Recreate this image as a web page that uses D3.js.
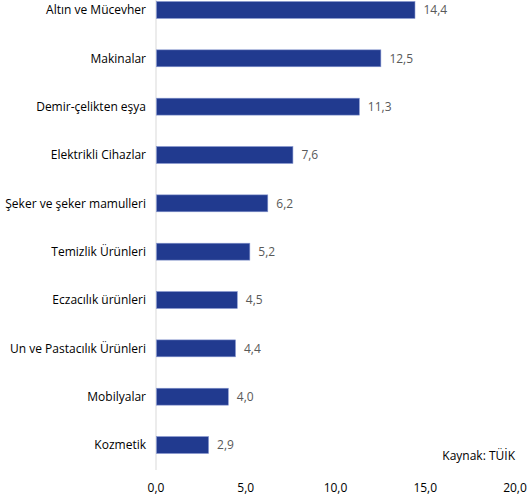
<!DOCTYPE html>
<html><head><meta charset="utf-8">
<script src="https://cdn.jsdelivr.net/npm/d3@7"></script>
<style>body{margin:0;background:#fff}svg{display:block}text{font-family:"Open Sans",sans-serif}</style>
</head><body><svg id="c" width="530" height="504"></svg>
<script>
const categories = ["Altın ve Mücevher","Makinalar","Demir-çelikten eşya","Elektrikli Cihazlar","Şeker ve şeker mamulleri","Temizlik Ürünleri","Eczacılık ürünleri","Un ve Pastacılık Ürünleri","Mobilyalar","Kozmetik"];
const values = [14.4,12.5,11.3,7.6,6.2,5.2,4.5,4.4,4.0,2.9];
const ticks = [0,5,10,15,20];
const source = "Kaynak: TÜİK";

const svg = d3.select("#c");
const fmt = d => d.toFixed(1).replace(".", ",");
const x = d3.scaleLinear().domain([0,20]).range([156,515]);
const y = d3.scaleBand().domain(categories).range([-14.2,469.2]).paddingInner(0.65).paddingOuter(0.325);

svg.append("line").attr("x1",x(0)).attr("x2",x(0)).attr("y1",0).attr("y2",470)
  .attr("stroke","#d9d9d9").attr("stroke-width",1);

svg.selectAll("rect.bar").data(values).join("rect").attr("class","bar")
  .attr("x",x(0)+0.5).attr("y",(d,i)=>y(categories[i]))
  .attr("width",d=>x(d)-x(0)).attr("height",y.bandwidth())
  .attr("fill","#213a8f").attr("stroke","#8595cf").attr("stroke-width",0.6);

svg.selectAll("text.val").data(values).join("text").attr("class","val")
  .attr("x",d=>x(d)+9).attr("y",(d,i)=>y(categories[i])+y.bandwidth()/2)
  .attr("dy","0.35em").attr("font-size",12).attr("fill","#595959").text(fmt);

svg.selectAll("text.cat").data(categories).join("text").attr("class","cat")
  .attr("x",146).attr("y",d=>y(d)+y.bandwidth()/2).attr("dy","0.35em")
  .attr("text-anchor","end").attr("font-size",12).attr("fill","#000").text(d=>d);

svg.selectAll("text.tick").data(ticks).join("text").attr("class","tick")
  .attr("x",d=>x(d)).attr("y",488).attr("dy","0.35em").attr("text-anchor","middle")
  .attr("font-size",12).attr("fill","#000").text(fmt);

svg.append("text").attr("x",515).attr("y",456).attr("dy","0.35em").attr("text-anchor","end")
  .attr("font-size",12).attr("fill","#000").text(source);
</script></body></html>
